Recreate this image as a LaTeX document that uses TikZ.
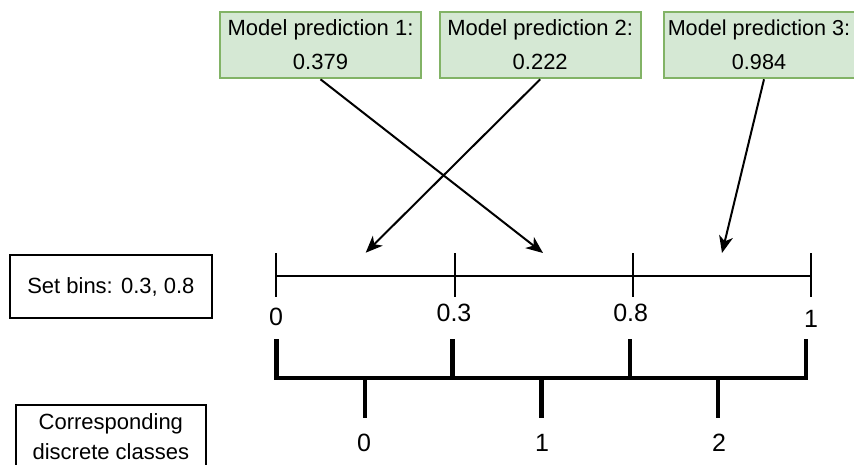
\documentclass[tikz,border=0pt]{standalone}
\usepackage{fontspec}
\setmainfont{Liberation Sans}
\usetikzlibrary{arrows.meta}
\definecolor{predfill}{HTML}{D5E8D4}
\definecolor{predstroke}{HTML}{82B366}
\begin{document}
\begin{tikzpicture}[x=1pt,y=-1pt,
  predbox/.style={draw=predstroke, fill=predfill, line width=2pt, minimum width=201pt, minimum height=66.6pt, inner sep=0pt, align=center, font=\fontsize{22}{34}\selectfont},
  predtext/.style={inner sep=0pt, align=center, font=\fontsize{21.6}{34}\selectfont},
  plainbox/.style={draw=black, line width=2pt, inner sep=0pt, align=center, font=\fontsize{22}{29.5}\selectfont},
  ticklbl/.style={font=\fontsize{25}{30}\selectfont, anchor=base, inner sep=0pt},
  arr/.style={line width=2pt, -{Stealth[length=17pt,width=14pt,inset=5pt]}},
  axisline/.style={line width=2pt},
  brk/.style={line width=4.5pt, line cap=butt, line join=miter}
]
\useasboundingbox (0,0) rectangle (854,464);
\clip (0,0) rectangle (854,464);

% prediction boxes
\node[predbox] (p1) at (320.5,45) {Model prediction 1:\\0.379};
\node[predbox] (p2) at (540.2,45) {Model prediction 2:\\0.222};
\node[predbox, minimum width=200pt] (p3) at (764,45) {};
\node[predtext] (p3t) at (759,45) {Model prediction 3:\\0.984};

% left boxes
\node[plainbox, minimum width=201.7pt, minimum height=63.3pt] (bins) at (110.85,286.7) {Set bins: 0.3, 0.8};
\node[plainbox, minimum width=189.7pt, minimum height=63.5pt] (classes) at (110.85,436.75) {Corresponding\\discrete classes};

% axis
\coordinate (a0) at (276,276);
\coordinate (a3) at (454.5,276);
\coordinate (a8) at (632.5,276);
\coordinate (a1) at (811,276);
\draw[axisline] (a0) -- (a1);
\foreach \c in {a0,a3,a8,a1} \draw[axisline] (\c) ++(0,-23) -- ++(0,44);

\node[ticklbl] (l0) at (276,325) {0};
\node[ticklbl] (l3) at (454,321.5) {0.3};
\node[ticklbl] (l8) at (630.7,321.5) {0.8};
\node[ticklbl] (l1) at (811,327) {1};

% arrows
\coordinate (t1) at (543,253);
\coordinate (t2) at (365.7,252.7);
\coordinate (t3) at (722,253);
\draw[arr] (p1.south) -- (t1);
\draw[arr] (p2.south) -- (t2);
\draw[arr] (p3.south) -- (t3);

% bracket
\coordinate (b0) at (276.7,378);
\coordinate (b3) at (452.7,378);
\coordinate (b8) at (630,378);
\coordinate (b1) at (806,378);
\draw[brk] (b0) ++(0,-39) -- (b0) -- (b1) -- ++(0,-39);
\draw[brk] (b3) ++(0,-39) -- (b3);
\draw[brk] (b8) ++(0,-39) -- (b8);
\coordinate (c0) at (365,378);
\coordinate (c1) at (541.7,378);
\coordinate (c2) at (718,378);
\foreach \c in {c0,c1,c2} \draw[brk] (\c) -- ++(0,40);

\node[ticklbl] (k0) at (364,451) {0};
\node[ticklbl] (k1) at (542,451) {1};
\node[ticklbl] (k2) at (719,451) {2};
\end{tikzpicture}
\end{document}
